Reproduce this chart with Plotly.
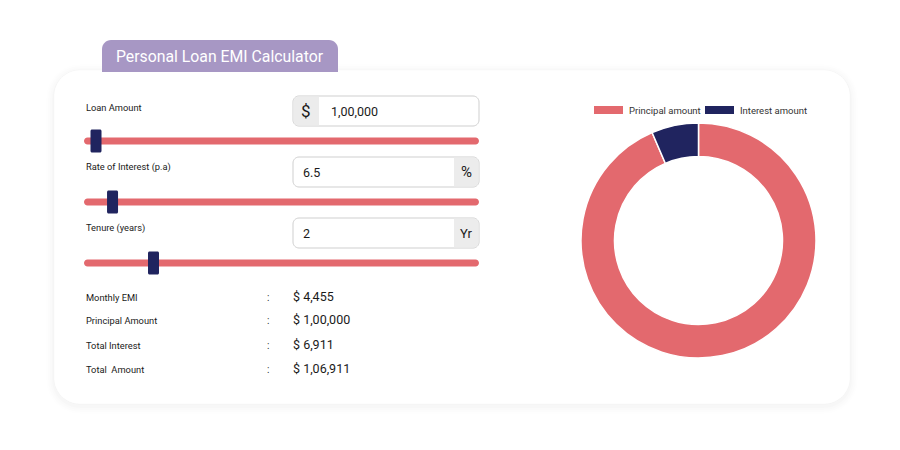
import plotly.graph_objects as go

# ---------------- data ----------------
title_text = "Personal Loan EMI Calculator"

input_labels = ["Loan Amount", "Rate of Interest (p.a)", "Tenure (years)"]
input_values = [100000, 6.5, 2]
input_units = ["$", "%", "Yr"]
slider_min = [50000, 5, 1]
slider_max = [3000000, 30, 7]

summary_labels = ["Monthly EMI", "Principal Amount", "Total Interest", "Total  Amount"]
summary_values = [4455, 100000, 6911, 106911]

pie_labels = ["Principal amount", "Interest amount"]
pie_values = [100000, 6911]

# ---------------- style ----------------
RED = "#E3696E"
NAVY = "#20245F"
PURPLE = "#A797C4"
FONT = "Roboto"
TXT = "#1a1a1a"


def inr(n):
    s = str(n)
    if "." in s or len(s) <= 3:
        return s
    last3 = s[-3:]
    rest = s[:-3]
    groups = []
    while len(rest) > 2:
        groups.insert(0, rest[-2:])
        rest = rest[:-2]
    if rest:
        groups.insert(0, rest)
    return ",".join(groups + [last3])


def rrect(x0, y0, x1, y1, r, tl=True, tr=True, br=True, bl=True):
    k = 0.5523
    a = r if tl else 0
    b = r if tr else 0
    c = r if br else 0
    d = r if bl else 0
    p = f"M {x0 + a},{y0} L {x1 - b},{y0} "
    if b:
        p += f"C {x1 - b + k * b},{y0} {x1},{y0 + b - k * b} {x1},{y0 + b} "
    p += f"L {x1},{y1 - c} "
    if c:
        p += f"C {x1},{y1 - c + k * c} {x1 - c + k * c},{y1} {x1 - c},{y1} "
    p += f"L {x0 + d},{y1} "
    if d:
        p += f"C {x0 + d - k * d},{y1} {x0},{y1 - d + k * d} {x0},{y1 - d} "
    p += f"L {x0},{y0 + a} "
    if a:
        p += f"C {x0},{y0 + a - k * a} {x0 + a - k * a},{y0} {x0 + a},{y0} "
    return p + "Z"


shapes = []
annotations = []


def add_path(path, fill, line_color=None, line_width=0, layer="above"):
    shapes.append(dict(type="path", path=path, xref="x", yref="y", fillcolor=fill,
                       line=dict(color=line_color or "rgba(0,0,0,0)", width=line_width),
                       layer=layer))


def add_text(x, y, text, size, color=TXT, xanchor="left", yanchor="middle"):
    annotations.append(dict(x=x, y=y, xref="x", yref="y", text=text, showarrow=False,
                            xanchor=xanchor, yanchor=yanchor,
                            font=dict(family=FONT, size=size, color=color)))


# card with soft shadow (kept below the donut)
for i, a in enumerate([0.005, 0.007, 0.009, 0.012]):
    g = 8 - 2 * i
    add_path(rrect(54 - g, 70 - g + 2, 850 + g, 404 + g + 2, 26 + g), f"rgba(0,0,0,{a})", layer="below")
add_path(rrect(54, 70, 850, 404, 26), "#ffffff", "rgba(0,0,0,0.02)", 1, layer="below")

# title tab
add_path(rrect(102, 40, 338, 72, 9, br=False, bl=False), PURPLE)
add_text(220, 56, title_text, 15.8, color="#ffffff", xanchor="center")

# inputs + sliders
label_y = [107, 167, 228]
box_top = [96, 157, 218]
track_y = [141, 202, 263]
tx0, tx1 = 84, 479
thumb_w, thumb_h = 11, 23
for i in range(3):
    add_text(84, label_y[i], input_labels[i], 9.3)
    bt, bb = box_top[i], box_top[i] + 30
    add_path(rrect(293, bt, 479, bb, 6), "#ffffff", "#cfcfcf", 1)
    val = input_values[i]
    val_txt = inr(val) if isinstance(val, int) else str(val)
    if i == 0:
        add_path(rrect(293.5, bt + 0.5, 319, bb - 0.5, 5.5, tr=False, br=False), "#ececec")
        add_text(306, bt + 15, input_units[i], 17, xanchor="center")
        add_text(329, bt + 15, val_txt, 12.5)
    else:
        add_path(rrect(454, bt + 0.5, 478.5, bb - 0.5, 5.5, tl=False, bl=False), "#ececec")
        add_text(466, bt + 15, input_units[i], 15 if i == 1 else 13, xanchor="center")
        add_text(301, bt + 15, val_txt, 12.5)
    # track
    ty = track_y[i]
    add_path(rrect(tx0, ty - 3.5, tx1, ty + 3.5, 3.5), RED)
    frac = (input_values[i] - slider_min[i]) / (slider_max[i] - slider_min[i])
    cx = tx0 + thumb_w / 2 + frac * (tx1 - tx0 - thumb_w)
    add_path(rrect(cx - thumb_w / 2, ty - thumb_h / 2, cx + thumb_w / 2, ty + thumb_h / 2, 1.5), NAVY)

# summary
row_y = [297, 320, 345, 369]
for i in range(4):
    add_text(84, row_y[i], summary_labels[i], 9.3)
    add_text(268, row_y[i], ":", 10, color="#333333", xanchor="center")
    add_text(291, row_y[i] - 1, "$ " + inr(summary_values[i]), 12.5)

# custom legend (Chart.js style)
pie_colors = [RED, NAVY]
leg_x = [594, 705]
for i in range(2):
    add_path(rrect(leg_x[i], 106, leg_x[i] + 29, 114, 0), pie_colors[i])
    add_text(leg_x[i] + 33, 110, pie_labels[i], 9.5, color="#333333")

# donut
cx_px, cy_px, r_px = 698.5, 240.5, 117.5
W, H = 900, 450
fig = go.Figure()
fig.add_trace(go.Pie(
    labels=pie_labels, values=pie_values, hole=0.715, sort=False,
    direction="clockwise", rotation=0, textinfo="none", showlegend=False,
    marker=dict(colors=pie_colors, line=dict(color="#ffffff", width=1.5)),
    domain=dict(x=[(cx_px - r_px) / W, (cx_px + r_px) / W],
                y=[1 - (cy_px + r_px) / H, 1 - (cy_px - r_px) / H]),
))

fig.update_layout(
    width=W, height=H, margin=dict(l=0, r=0, t=0, b=0),
    paper_bgcolor="#ffffff", plot_bgcolor="rgba(0,0,0,0)",
    xaxis=dict(range=[0, W], visible=False, fixedrange=True),
    yaxis=dict(range=[H, 0], visible=False, fixedrange=True),
    shapes=shapes, annotations=annotations, showlegend=False,
    font=dict(family=FONT),
)

fig.write_html("out.html", config={"displayModeBar": False},
               post_script="document.body.style.margin='0';")
